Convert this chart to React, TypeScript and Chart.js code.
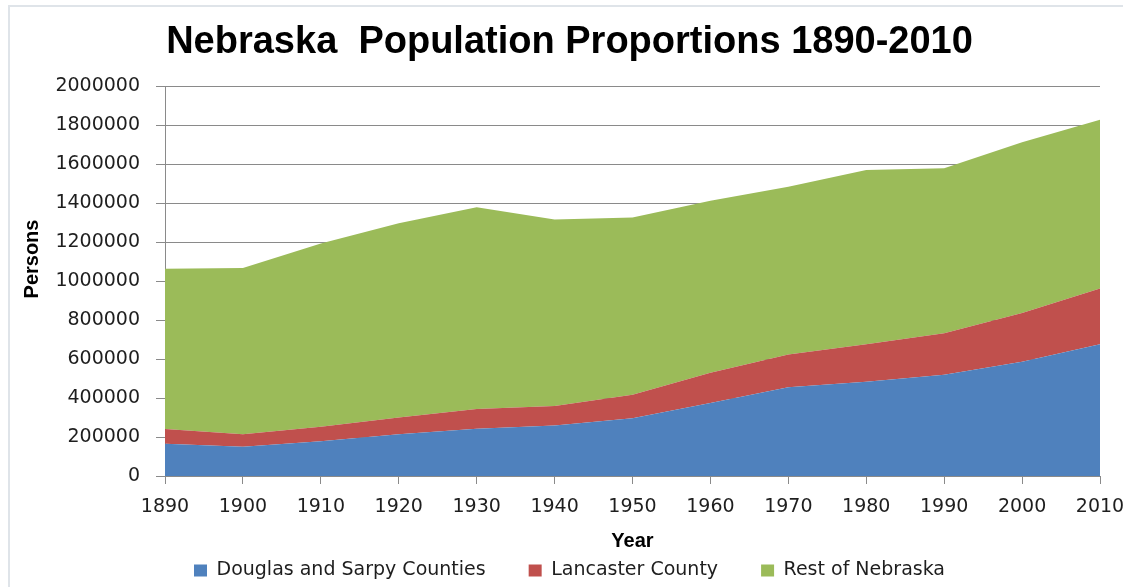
import React, { useEffect, useRef } from "react";
import { Chart, registerables } from "chart.js";

Chart.register(...registerables);

const TITLE = "Nebraska  Population Proportions 1890-2010";
const X_TITLE = "Year";
const Y_TITLE = "Persons";

const years = ["1890", "1900", "1910", "1920", "1930", "1940", "1950", "1960", "1970", "1980", "1990", "2000", "2010"];

const douglasSarpy = [164900, 149700, 178300, 213700, 242900, 258400, 296700, 374800, 455700, 483100, 519000, 586200, 676000];
const lancaster = [76400, 64800, 73800, 85900, 100300, 100600, 119700, 155300, 168000, 192900, 213600, 250300, 285400];
const restOfNebraska = [821400, 851800, 940100, 996800, 1034800, 956800, 909100, 881200, 859800, 893800, 845800, 874800, 864900];

const seriesNames = ["Douglas and Sarpy Counties", "Lancaster County", "Rest of Nebraska"];
const seriesColors = ["#4F81BD", "#C0504D", "#9BBB59"];

const yMin = 0;
const yMax = 2000000;
const yStep = 200000;

const GRID = "#8a8a8a";
const TEXT = "#1e1e1e";

const yTitlePlugin = {
  id: "yTitleCustom",
  afterDraw(chart: any) {
    const { ctx, chartArea } = chart;
    ctx.save();
    ctx.translate(24, (chartArea.top + chartArea.bottom) / 2 - 22);
    ctx.rotate(-Math.PI / 2);
    ctx.font = 'bold 20px "Liberation Sans", Arial, sans-serif';
    ctx.fillStyle = "#000";
    ctx.textAlign = "center";
    ctx.textBaseline = "middle";
    ctx.fillText(Y_TITLE, 0, 0);
    ctx.restore();
  },
};

export default function App() {
  const ref = useRef<HTMLCanvasElement | null>(null);

  useEffect(() => {
    if (!ref.current) return;
    const data = [douglasSarpy, lancaster, restOfNebraska];
    const chart = new Chart(ref.current, {
      type: "line",
      data: {
        labels: years,
        datasets: data.map((d, i) => ({
          label: seriesNames[i],
          data: d,
          backgroundColor: seriesColors[i],
          borderColor: "rgba(0,0,0,0)",
          borderWidth: 0,
          pointRadius: 0,
          pointHoverRadius: 0,
          fill: i === 0 ? "origin" : "-1",
          tension: 0,
        })),
      },
      options: {
        responsive: false,
        animation: false,
        devicePixelRatio: 1,
        layout: { padding: { top: 0, left: 0, right: 0, bottom: -3 } },
        plugins: {
          tooltip: { enabled: false },
          title: {
            display: true,
            text: TITLE,
            color: "#000",
            font: { family: '"Liberation Sans", Arial, sans-serif', size: 38, weight: "bold" },
            padding: { top: 20, bottom: 20.4 },
          },
          legend: {
            position: "bottom",
            align: "center",
            labels: {
              color: TEXT,
              font: { family: '"DejaVu Sans", sans-serif', size: 19 },
              boxWidth: 13,
              boxHeight: 12,
              padding: 43,
            },
          },
        },
        scales: {
          x: {
            type: "category",
            offset: false,
            grid: { display: true, drawOnChartArea: false, drawTicks: true, tickLength: 8, color: GRID },
            border: { display: true, color: GRID },
            ticks: {
              color: TEXT,
              font: { family: '"DejaVu Sans", sans-serif', size: 19 },
              padding: 12,
              maxRotation: 0,
              autoSkip: false,
            },
            title: {
              display: true,
              text: X_TITLE,
              color: "#000",
              font: { family: '"Liberation Sans", Arial, sans-serif', size: 20, weight: "bold" },
              padding: { top: 0, bottom: -35.5 },
            },
            afterFit: (s: any) => {
              s.height = 42;
              s.paddingRight = 31;
            },
          },
          y: {
            stacked: true,
            min: yMin,
            max: yMax,
            grid: { color: GRID, lineWidth: 1, drawTicks: true, tickLength: 9 },
            border: { display: true, color: GRID },
            ticks: {
              stepSize: yStep,
              color: TEXT,
              font: { family: '"DejaVu Sans", sans-serif', size: 19 },
              padding: 16,
              callback: (v: any) => String(v),
            },
            afterFit: (s: any) => {
              s.width = 157;
            },
          },
        },
      },
      plugins: [yTitlePlugin],
    } as any);
    return () => chart.destroy();
  }, []);

  return (
    <div style={{ position: "fixed", left: 0, top: 0, width: 1123, height: 587, overflow: "hidden", background: "#fff" }}>
      <div style={{ position: "absolute", left: 8, top: 0, width: 1123, height: 587 }}>
        <canvas ref={ref} width={1123} height={587} style={{ width: 1123, height: 587, display: "block" }} />
      </div>
      <div style={{ position: "absolute", left: 8, top: 5, width: 1115, height: 2, background: "#dfe4e9" }} />
      <div style={{ position: "absolute", left: 8, top: 5, width: 2, height: 582, background: "#dfe4e9" }} />
    </div>
  );
}
